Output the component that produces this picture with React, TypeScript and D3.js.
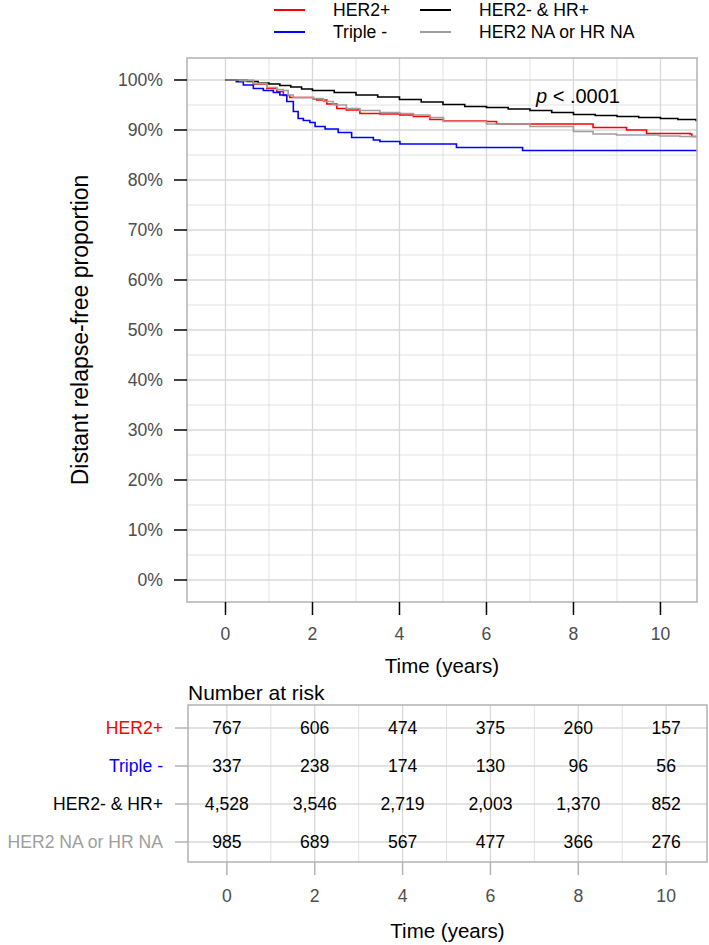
import React from 'react';
import * as d3 from 'd3';

// groups, colours
const groups = ['HER2+', 'Triple -', 'HER2- & HR+', 'HER2 NA or HR NA'];
const groupColors = ['#FF0000', '#0000FF', '#000000', '#9E9E9E'];

// Kaplan-Meier curves (time in years, survival proportion)
const her2Time = [0, 0.33, 0.64, 0.95, 1.18, 1.33, 1.48, 2.02, 2.1, 2.33, 2.56, 2.78, 3.09, 3.55, 4.01, 4.32, 4.7, 5.01, 6.0, 6.23, 8.38, 8.45, 9.22, 9.68, 10.68, 10.72, 11];
const her2Surv = [1, 0.9987, 0.992, 0.983, 0.977, 0.969, 0.965, 0.962, 0.96, 0.952, 0.943, 0.94, 0.933, 0.932, 0.93, 0.927, 0.921, 0.918, 0.917, 0.912, 0.912, 0.905, 0.9, 0.893, 0.892, 0.887, 0.887];

const tripleTime = [0, 0.25, 0.41, 0.64, 0.87, 1.1, 1.25, 1.41, 1.56, 1.67, 1.79, 1.94, 2.06, 2.29, 2.59, 2.9, 3.4, 3.55, 4.01, 5.31, 6.83, 11];
const tripleSurv = [1, 0.9967, 0.99, 0.983, 0.979, 0.975, 0.97, 0.957, 0.937, 0.923, 0.919, 0.915, 0.907, 0.902, 0.895, 0.885, 0.88, 0.877, 0.872, 0.865, 0.859, 0.859];

const hrTime = [0, 0.25, 0.5, 0.75, 1.0, 1.25, 1.5, 1.75, 2.0, 2.5, 3.0, 3.5, 4.0, 4.5, 5.0, 5.5, 6.0, 6.5, 7.0, 7.5, 8.0, 8.5, 9.0, 9.5, 10.0, 10.4, 10.82, 11];
const hrSurv = [1, 0.999, 0.997, 0.994, 0.992, 0.989, 0.986, 0.982, 0.979, 0.975, 0.97, 0.966, 0.961, 0.956, 0.951, 0.947, 0.945, 0.942, 0.939, 0.935, 0.931, 0.929, 0.927, 0.925, 0.923, 0.921, 0.919, 0.919];

const naTime = [0, 0.33, 0.64, 0.95, 1.18, 1.33, 1.44, 1.56, 2.02, 2.25, 2.48, 2.78, 3.09, 3.55, 4.01, 4.32, 4.7, 5.01, 6.0, 7.0, 8.0, 8.45, 8.99, 9.98, 10.45, 11];
const naSurv = [1, 0.9987, 0.9933, 0.985, 0.981, 0.979, 0.97, 0.965, 0.963, 0.957, 0.95, 0.943, 0.939, 0.935, 0.933, 0.93, 0.925, 0.917, 0.912, 0.907, 0.897, 0.892, 0.89, 0.888, 0.887, 0.887];

const curveTimes = [her2Time, tripleTime, hrTime, naTime];
const curveSurvs = [her2Surv, tripleSurv, hrSurv, naSurv];

// number at risk table
const riskTimes = [0, 2, 4, 6, 8, 10];
const riskHer2 = ['767', '606', '474', '375', '260', '157'];
const riskTriple = ['337', '238', '174', '130', '96', '56'];
const riskHr = ['4,528', '3,546', '2,719', '2,003', '1,370', '852'];
const riskNa = ['985', '689', '567', '477', '366', '276'];
const riskRows = [riskHer2, riskTriple, riskHr, riskNa];

const xTicks = [0, 2, 4, 6, 8, 10];
const xMinor = [1, 3, 5, 7, 9];
const yTicks = [0, 0.1, 0.2, 0.3, 0.4, 0.5, 0.6, 0.7, 0.8, 0.9, 1.0];
const yMinor = [0.05, 0.15, 0.25, 0.35, 0.45, 0.55, 0.65, 0.75, 0.85, 0.95];

const W = 709;
const H = 945;
const FONT = '"Liberation Sans", Arial, Helvetica, sans-serif';
const BORDER = '#b3b3b3';
const GRID = '#d8d8d8';
const GRID_MINOR = '#e2e2e2';
const TICK_TEXT = '#4d4d4d';

export default function App() {
  const main = { left: 187, right: 697, top: 58, bottom: 602 };
  const tab = { left: 188, right: 707, top: 705, bottom: 862 };

  const x = d3.scaleLinear().domain([-0.885, 10.84]).range([main.left, main.right]);
  const y = d3.scaleLinear().domain([-0.044, 1.044]).range([main.bottom, main.top]);
  const xr = d3.scaleLinear().domain([-0.885, 10.93]).range([tab.left, tab.right]);
  const yr = d3.scaleLinear().domain([-0.605, 3.526]).range([tab.top, tab.bottom]);

  const line = d3.line<[number, number]>()
    .x(d => x(d[0]))
    .y(d => y(d[1]))
    .curve(d3.curveStepAfter);

  const pct = d3.format('.0%');

  return (
    <svg width={W} height={H} style={{ position: 'absolute', left: 0, top: 0, background: '#fff' }}
      fontFamily={FONT}>
      <defs>
        <clipPath id="mainClip">
          <rect x={main.left} y={main.top} width={main.right - main.left} height={main.bottom - main.top} />
        </clipPath>
      </defs>

      {/* legend: two columns, two rows */}
      {groups.map((g, i) => {
        const c = i < 2 ? 0 : 1;
        const r = i % 2;
        const lx = c === 0 ? 274 : 420;
        const ly = r === 0 ? 10 : 32;
        return (
          <g key={g}>
            <line x1={lx} x2={lx + 31} y1={ly} y2={ly} stroke={groupColors[i]} strokeWidth={2} />
            <text x={lx + 59} y={ly} dominantBaseline="central" fontSize={17.6} fill="#000">{g}</text>
          </g>
        );
      })}

      {/* main panel grid */}
      <rect x={main.left} y={main.top} width={main.right - main.left} height={main.bottom - main.top} fill="#fff" />
      {yMinor.map(v => (
        <line key={'ym' + v} x1={main.left} x2={main.right} y1={y(v)} y2={y(v)} stroke={GRID_MINOR} strokeWidth={1} />
      ))}
      {xMinor.map(v => (
        <line key={'xm' + v} x1={x(v)} x2={x(v)} y1={main.top} y2={main.bottom} stroke={GRID_MINOR} strokeWidth={1} />
      ))}
      {yTicks.map(v => (
        <line key={'yg' + v} x1={main.left} x2={main.right} y1={y(v)} y2={y(v)} stroke={GRID} strokeWidth={1.3} />
      ))}
      {xTicks.map(v => (
        <line key={'xg' + v} x1={x(v)} x2={x(v)} y1={main.top} y2={main.bottom} stroke={GRID} strokeWidth={1.3} />
      ))}

      {/* curves */}
      <g clipPath="url(#mainClip)" fill="none" strokeWidth={1.6}>
        {curveTimes.map((ts, i) => (
          <path key={groups[i]}
            d={line(ts.map((t, j) => [t, curveSurvs[i][j]] as [number, number])) || ''}
            stroke={groupColors[i]} />
        ))}
      </g>

      <rect x={main.left} y={main.top} width={main.right - main.left} height={main.bottom - main.top}
        fill="none" stroke={BORDER} strokeWidth={1.5} />

      {/* p value */}
      <text x={536} y={103} fontSize={20} fill="#000">
        <tspan fontStyle="italic">p</tspan> &lt; .0001
      </text>

      {/* y axis */}
      {yTicks.map(v => (
        <g key={'yt' + v}>
          <line x1={main.left - 13} x2={main.left} y1={y(v)} y2={y(v)} stroke="#000" strokeWidth={1.5} />
          <text x={163} y={y(v)} dominantBaseline="central" textAnchor="end" fontSize={17.6} fill={TICK_TEXT}>{pct(v)}</text>
        </g>
      ))}
      <text transform={`translate(80,${(main.top + main.bottom) / 2}) rotate(-90)`} textAnchor="middle"
        dominantBaseline="central" fontSize={23} fill="#000">Distant relapse-free proportion</text>

      {/* x axis */}
      {xTicks.map(v => (
        <g key={'xt' + v}>
          <line x1={x(v)} x2={x(v)} y1={main.bottom} y2={main.bottom + 13} stroke="#000" strokeWidth={1.5} />
          <text x={x(v)} y={634} dominantBaseline="central" textAnchor="middle" fontSize={17.6} fill={TICK_TEXT}>{v}</text>
        </g>
      ))}
      <text x={(main.left + main.right) / 2} y={665} textAnchor="middle" dominantBaseline="central" fontSize={20.5} fill="#000">Time (years)</text>

      {/* risk table */}
      <text x={188} y={692} dominantBaseline="central" fontSize={21} fill="#000">Number at risk</text>
      <rect x={tab.left} y={tab.top} width={tab.right - tab.left} height={tab.bottom - tab.top} fill="#fff" />
      {xMinor.map(v => (
        <line key={'rxm' + v} x1={xr(v)} x2={xr(v)} y1={tab.top} y2={tab.bottom} stroke={GRID_MINOR} strokeWidth={1} />
      ))}
      {riskTimes.map(v => (
        <line key={'rxg' + v} x1={xr(v)} x2={xr(v)} y1={tab.top} y2={tab.bottom} stroke={GRID} strokeWidth={1.3} />
      ))}
      {groups.map((g, i) => (
        <line key={'ryg' + g} x1={tab.left} x2={tab.right} y1={yr(i)} y2={yr(i)} stroke={GRID} strokeWidth={1.3} />
      ))}
      {riskRows.map((row, i) => row.map((n, j) => (
        <text key={'n' + i + '-' + j} x={xr(riskTimes[j])} y={yr(i)} textAnchor="middle" dominantBaseline="central"
          fontSize={17.6} fill="#000">{n}</text>
      )))}
      <rect x={tab.left} y={tab.top} width={tab.right - tab.left} height={tab.bottom - tab.top}
        fill="none" stroke={BORDER} strokeWidth={1.5} />
      {groups.map((g, i) => (
        <g key={'rl' + g}>
          <line x1={tab.left - 13} x2={tab.left} y1={yr(i)} y2={yr(i)} stroke={BORDER} strokeWidth={1.5} />
          <text x={163} y={yr(i)} textAnchor="end" dominantBaseline="central" fontSize={17.6} fill={groupColors[i]}>{g}</text>
        </g>
      ))}
      {riskTimes.map(v => (
        <g key={'rxt' + v}>
          <line x1={xr(v)} x2={xr(v)} y1={tab.bottom} y2={tab.bottom + 13} stroke={BORDER} strokeWidth={1.5} />
          <text x={xr(v)} y={896} textAnchor="middle" dominantBaseline="central" fontSize={17.6} fill={TICK_TEXT}>{v}</text>
        </g>
      ))}
      <text x={(tab.left + tab.right) / 2} y={930} textAnchor="middle" dominantBaseline="central" fontSize={20.5} fill="#000">Time (years)</text>
    </svg>
  );
}
